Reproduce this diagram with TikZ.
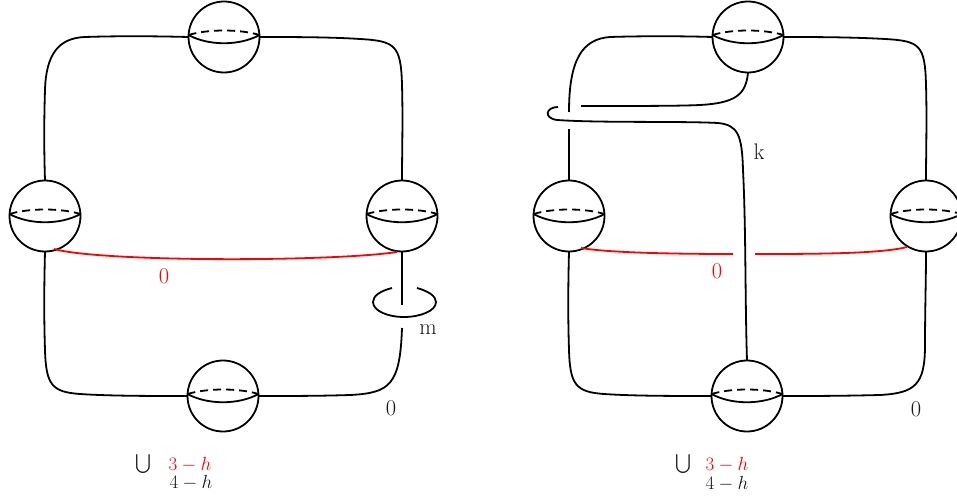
\RequirePackage{fix-cm}
\documentclass[tikz,border=0pt]{standalone}
\usetikzlibrary{calc}
\definecolor{rd}{RGB}{255,0,0}
\definecolor{tx}{RGB}{25,25,25}
\tikzset{
  x=1pt,y=-1pt,
  ball/.style={circle,draw=black,line width=1.8pt,minimum size=71pt,inner sep=0pt,outer sep=0pt},
  strand/.style={draw=black,line width=1.8pt},
  redstrand/.style={draw=rd,line width=1.8pt},
  lab/.style={text=tx,inner sep=0pt,font=\fontsize{22.5}{22.5}\selectfont},
  redlab/.style={text=rd,inner sep=0pt,font=\fontsize{22.5}{22.5}\selectfont},
  small/.style={text=tx,inner sep=0pt,font=\fontsize{19}{19}\selectfont},
  smallred/.style={text=rd,inner sep=0pt,font=\fontsize{19}{19}\selectfont}
}
\newcommand{\sph}[3]{%
  \node[ball] (#1) at (#2,#3) {};
  \draw[strand] ($(#1.west)+(0,-2)$) .. controls ($(#1.west)+(20,9)$) and ($(#1.east)+(-20,9)$) .. ($(#1.east)+(0,-2)$);
  \draw[strand,dash pattern=on 8pt off 5pt] ($(#1.west)+(0,-2)$) .. controls ($(#1.west)+(20,-8)$) and ($(#1.east)+(-20,-8)$) .. ($(#1.east)+(0,-2)$);
}
\begin{document}
\begin{tikzpicture}
\useasboundingbox (0,0) rectangle (957,497);
% left diagram
\sph{a}{224}{37}
\sph{b}{45}{216}
\sph{c}{402}{216}
\sph{d}{223}{396}
\coordinate (mt) at (402,305);
\coordinate (mb) at (402,328);
\coordinate (ml) at (392,288);
\coordinate (mr) at (417,288);
\draw[strand] (a.west) .. controls (150,36) and (115,36) .. (85,37) .. controls (58,38) and (46,55) .. (45,90) .. controls (44,120) and (44,150) .. (b.north);
\draw[strand] (a.east) .. controls (290,37) and (330,37) .. (360,39) .. controls (395,41) and (401,45) .. (402,85) .. controls (403,120) and (402,150) .. (c.north);
\draw[strand] (b.south) .. controls (44,290) and (44,320) .. (45,350) .. controls (46,385) and (52,392) .. (80,394) .. controls (110,396) and (150,396) .. (d.west);
\draw[strand] (d.east) .. controls (290,396) and (320,396) .. (350,395) .. controls (390,393) and (400,385) .. (mb);
\draw[strand] (c.south) -- (mt);
\draw[strand] (ml) .. controls (380,291) and (373,296) .. (373,302) .. controls (373,311) and (388,317) .. (404,317) .. controls (420,317) and (436,311) .. (436,302) .. controls (436,296) and (428,291) .. (mr);
\draw[redstrand] (54,249) .. controls (100,262) and (330,262) .. (397,252);
\node[redlab] (z1) at (164,276) {0};
\node[lab] (m) at (428,330) {m};
\node[lab] (z2) at (391,408) {0};
\node[small] (u1) at (143,464) {\scalebox{1.9}{$\bigcup$}};
\node[smallred] (r1) at (190,465) {$3-h$};
\node[small] (s1) at (191,483) {$4-h$};
% right diagram
\sph{e}{748}{37}
\sph{f}{569}{216}
\sph{g}{926}{216}
\sph{h}{747}{396}
\coordinate (p1) at (569,112);
\coordinate (p2) at (569,129);
\coordinate (q1) at (581,106);
\coordinate (q2) at (558,107);
\coordinate (rl) at (733,254);
\coordinate (rr) at (755,254);
\draw[strand] (e.west) .. controls (680,36) and (640,36) .. (610,37) .. controls (582,39) and (569,60) .. (p1);
\draw[strand] (p2) -- (f.north);
\draw[strand] (q1) .. controls (640,106) and (680,106) .. (700,105) .. controls (735,103) and (746,95) .. (e.south);
\draw[strand] (q2) .. controls (546,107) and (543,118) .. (557,120) .. controls (600,123) and (680,121) .. (718,123) .. controls (738,125) and (742,135) .. (743,170) .. controls (746,230) and (745,300) .. (h.north);
\draw[strand] (e.east) .. controls (810,37) and (850,37) .. (885,39) .. controls (920,41) and (925,45) .. (926,85) .. controls (927,120) and (926,150) .. (g.north);
\draw[strand] (f.south) .. controls (568,290) and (568,320) .. (569,350) .. controls (570,385) and (576,392) .. (604,394) .. controls (634,396) and (674,396) .. (h.west);
\draw[strand] (h.east) .. controls (810,396) and (840,396) .. (880,395) .. controls (915,393) and (925,385) .. (925,345) .. controls (925,310) and (926,280) .. (g.south);
\draw[redstrand] (581,248) .. controls (610,253) and (680,254) .. (rl);
\draw[redstrand] (rr) .. controls (810,254) and (880,254) .. (907,247);
\node[redlab] (z3) at (717,271) {0};
\node[lab] (k) at (759,152) {k};
\node[lab] (z4) at (916,409) {0};
\node[small] (u2) at (683,464) {\scalebox{1.9}{$\bigcup$}};
\node[smallred] (r2) at (727,465) {$3-h$};
\node[small] (s2) at (727,484) {$4-h$};
\end{tikzpicture}
\end{document}
